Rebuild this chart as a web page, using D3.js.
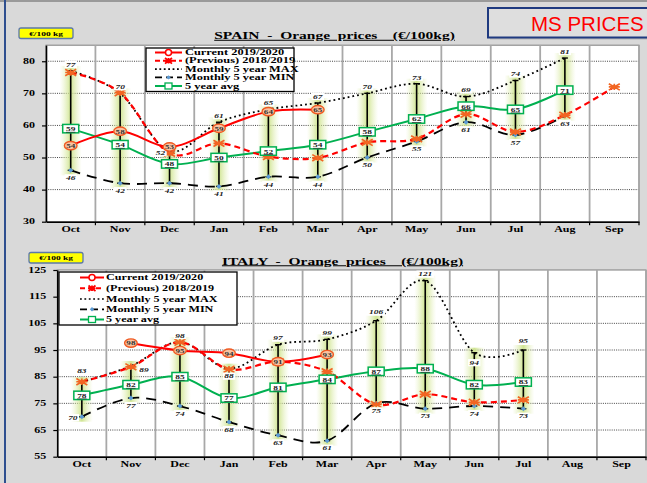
<!DOCTYPE html>
<html><head><meta charset="utf-8">
<script src="https://cdn.jsdelivr.net/npm/d3@7/dist/d3.min.js"></script>
<style>
html,body{margin:0;padding:0;background:#d9d9d9;}
svg{display:block;}
text{font-family:"Liberation Serif","Times New Roman",serif;font-weight:bold;white-space:pre;}
</style></head>
<body>
<svg id="chart" width="647" height="483"></svg>
<script>
// ---------- DATA ----------
const months = ["Oct","Nov","Dec","Jan","Feb","Mar","Apr","May","Jun","Jul","Aug","Sep"];
const legendLabels = ["Current 2019/2020","(Previous) 2018/2019","Monthly 5 year MAX","Monthly 5 year MIN","5 year avg"];

const spainCurrent  = [53.7, 58.2, 53.3, 59.1, 64.3, 64.9, null, null, null, null, null, null];
const spainPrevious = [76.5, 70.2, 51.3, 54.4, 50.3, 49.9, 54.7, 55.8, 63.5, 58.0, 63.2, 72.0];
const spainMax      = [77, 70, 52, 61, 65, 67, 70, 73, 69, 74, 81, null];
const spainMin      = [46, 42, 42, 41, 44, 44, 50, 55, 61, 57, 63, null];
const spainAvg      = [59, 54, 48, 50, 52, 54, 58, 62, 66, 65, 71, null];
const spainTicks    = [30, 40, 50, 60, 70, 80];

const italyCurrent  = [null, 97.6, 94.8, 93.8, 90.6, 93.3, null, null, null, null, null, null];
const italyPrevious = [83.1, 88.7, 97.9, 87.8, 90.6, 86.9, 74.6, 78.4, 75.4, 76.3, null, null];
const italyMax      = [83, 89, 98, 88, 97, 99, 106, 121, 94, 95, null, null];
const italyMin      = [70, 77, 74, 68, 63, 61, 75, 73, 74, 73, null, null];
const italyAvg      = [78, 82, 85, 77, 81, 84, 87, 88, 82, 83, null, null];
const italyTicks    = [55, 65, 75, 85, 95, 105, 115, 125];

// ---------- DRAWING ----------
const svg = d3.select("#chart");
const defs = svg.append("defs");
const gg = defs.append("linearGradient").attr("id","glow").attr("x1","0").attr("x2","1").attr("y1","0").attr("y2","0");
gg.append("stop").attr("offset","0").attr("stop-color","#e4f0b8").attr("stop-opacity",0);
gg.append("stop").attr("offset","0.5").attr("stop-color","#cde38c").attr("stop-opacity",0.95);
gg.append("stop").attr("offset","1").attr("stop-color","#e4f0b8").attr("stop-opacity",0);

// page frame
svg.append("rect").attr("x",0).attr("y",0).attr("width",647).attr("height",483).attr("fill","#d9d9d9");
svg.append("rect").attr("x",0).attr("y",0).attr("width",647).attr("height",2).attr("fill","#9a9a9a");
svg.append("rect").attr("x",4).attr("y",0).attr("width",2).attr("height",483).attr("fill","#2f4f8f");

// MS PRICES box
svg.append("rect").attr("x",490).attr("y",10).attr("width",170).attr("height",29.5).attr("fill","#b8b8b8");
svg.append("rect").attr("x",488).attr("y",8).attr("width",170).attr("height",29.5)
  .attr("fill","#dedede").attr("stroke","#1f3a80").attr("stroke-width",2);
svg.append("text").attr("x",531).attr("y",30.5).text("MS PRICES")
  .style("font-family","'Liberation Sans',Arial,sans-serif").style("font-weight","normal")
  .attr("font-size",20.5).attr("fill","#ff0000");

function stext(g, x, y, str, o) {
  o = o || {};
  const t = g.append("text")
    .attr("transform", `translate(${x},${y}) scale(${o.sx || 1.5},1)`)
    .attr("font-size", o.fs || 8)
    .attr("text-anchor", o.anchor || "middle")
    .attr("fill", o.fill || "#000")
    .text(str);
  if (o.italic) t.style("font-style","italic");
  if (o.underline) t.style("text-decoration","underline");
  return t;
}

function starPath(w, h) {
  return `M${-w},${-h}L${w},${h}M${-w},${h}L${w},${-h}M${-w},0L${w},0M0,${-h}L0,${h}`;
}

function drawPanel(P) {
  const g = svg.append("g");
  const x = d3.scaleBand().domain(months).range([P.left, P.right]).padding(0);
  const cx = m => x(m) + x.bandwidth() / 2;
  const y = d3.scaleLinear().domain(P.domain).range([P.bottom, P.top]);
  const rows = months.map((m, i) => ({m, cur: P.cur[i], prev: P.prev[i], max: P.max[i], min: P.min[i], avg: P.avg[i]}));

  // yellow unit box
  g.append("rect").attr("x",P.unit[0]).attr("y",P.unit[1]).attr("width",P.unit[2]).attr("height",P.unit[3])
    .attr("rx",2).attr("fill","#ffff00").attr("stroke","#5b78a8").attr("stroke-width",1.3);
  stext(g, P.unit[0] + P.unit[2]/2, P.unit[1] + P.unit[3]/2 + 2.3, "€/100 kg", {fs:6.5, sx:1.45});

  // title
  stext(g, P.titleX, P.titleY, P.title, {fs:10, sx:1.55, underline:true});

  // plot background
  g.append("rect").attr("x",P.left).attr("y",P.top).attr("width",P.right-P.left).attr("height",P.bottom-P.top)
    .attr("fill","#fff").attr("stroke","#7f7f7f").attr("stroke-width",1);

  // horizontal grid
  g.selectAll(null).data(P.ticks.filter(t => t > P.domain[0] && t < P.domain[1])).join("line")
    .attr("x1",P.left).attr("x2",P.right).attr("y1",d => y(d)).attr("y2",d => y(d))
    .attr("stroke","#444").attr("stroke-width",1).attr("stroke-dasharray","1,1.2");

  // vertical grid
  g.selectAll(null).data(months.slice(1)).join("line")
    .attr("x1",d => x(d)).attr("x2",d => x(d)).attr("y1",P.top).attr("y2",P.bottom)
    .attr("stroke","#a8a8a8").attr("stroke-width",1.8);
  g.append("line").attr("x1",P.right).attr("x2",P.right).attr("y1",P.top).attr("y2",P.bottom)
    .attr("stroke","#a8a8a8").attr("stroke-width",1.8);

  const bars = rows.filter(d => d.max != null && d.min != null);
  // glow
  g.selectAll(null).data(bars).join("rect")
    .attr("x",d => cx(d.m) - 11).attr("width",22)
    .attr("y",d => y(d.max) - 5).attr("height",d => y(d.min) - y(d.max) + 10)
    .attr("fill","url(#glow)");
  // range bars
  g.selectAll(null).data(bars).join("line")
    .attr("x1",d => cx(d.m)).attr("x2",d => cx(d.m)).attr("y1",d => y(d.max)).attr("y2",d => y(d.min))
    .attr("stroke","#000").attr("stroke-width",1.6);
  ["max","min"].forEach(k => {
    g.selectAll(null).data(bars).join("line")
      .attr("x1",d => cx(d.m) - 3).attr("x2",d => cx(d.m) + 3).attr("y1",d => y(d[k])).attr("y2",d => y(d[k]))
      .attr("stroke","#000").attr("stroke-width",1.4);
  });

  const curve = d3.curveCardinal.tension(0);
  const mkLine = k => d3.line().defined(d => d[k] != null).x(d => cx(d.m)).y(d => y(d[k])).curve(curve);
  const lineRows = k => rows.filter(d => d[k] != null);

  g.append("path").attr("d", mkLine("max")(lineRows("max"))).attr("fill","none")
    .attr("stroke","#000").attr("stroke-width",1.8).attr("stroke-dasharray","1.8,3");
  g.append("path").attr("d", mkLine("min")(lineRows("min"))).attr("fill","none")
    .attr("stroke","#000").attr("stroke-width",1.8).attr("stroke-dasharray","10,7");
  g.append("path").attr("d", mkLine("avg")(lineRows("avg"))).attr("fill","none")
    .attr("stroke","#00b050").attr("stroke-width",2);
  g.append("path").attr("d", mkLine("prev")(lineRows("prev"))).attr("fill","none")
    .attr("stroke","#ff0000").attr("stroke-width",2.2).attr("stroke-dasharray","6,4");
  g.append("path").attr("d", mkLine("cur")(lineRows("cur"))).attr("fill","none")
    .attr("stroke","#ff0000").attr("stroke-width",2);

  // min markers
  g.selectAll(null).data(lineRows("min")).join("path")
    .attr("d","M0,-2.5L2.5,0L0,2.5L-2.5,0Z")
    .attr("transform",d => `translate(${cx(d.m)},${y(d.min)})`).attr("fill","#5b9bd5");
  // previous markers
  g.selectAll(null).data(lineRows("prev")).join("path")
    .attr("d", starPath(5.5, 3.2))
    .attr("transform",d => `translate(${cx(d.m)},${y(d.prev)})`)
    .attr("stroke","#f26522").attr("stroke-width",1.7).attr("fill","none");

  // max / min labels
  const lab = (d, k, def, exc) => {
    const off = (exc && exc[d.m]) || def;
    const px = cx(d.m) + off[0], py = y(d[k]) + off[1];
    const s = String(Math.round(d[k]));
    g.append("rect").attr("x",px - s.length*2.6 - 1).attr("y",py - 3.6).attr("width",s.length*5.2 + 2).attr("height",7.2).attr("fill","#fff");
    stext(g, px, py + 2.3, s, {fs:6.5, sx:1.45, italic:true, fill:"#222"});
  };
  bars.forEach(d => { lab(d, "max", [0,-6.5], P.maxExc); lab(d, "min", [0,7.5], P.minExc); });

  // avg boxes
  lineRows("avg").forEach(d => {
    const px = cx(d.m), py = y(d.avg);
    g.append("rect").attr("x",px - 8).attr("y",py - 4.2).attr("width",16).attr("height",8.4)
      .attr("fill","#fff").attr("stroke","#00b050").attr("stroke-width",1.5);
    stext(g, px, py + 2.4, String(Math.round(d.avg)), {fs:6.5, sx:1.45, underline:true, fill:"#222"});
  });
  // current circles
  lineRows("cur").forEach(d => {
    const px = cx(d.m), py = y(d.cur);
    g.append("ellipse").attr("cx",px).attr("cy",py).attr("rx",6.3).attr("ry",4.2)
      .attr("fill","#f9c3a0").attr("stroke","#f05a22").attr("stroke-width",1.4);
    stext(g, px, py + 2.3, String(Math.round(d.cur)), {fs:6.5, sx:1.4, fill:"#333"});
  });

  // axes
  const ya = g.append("g").attr("transform",`translate(${P.left},0)`)
    .call(d3.axisLeft(y).tickValues(P.ticks).tickSize(4).tickSizeOuter(0).tickFormat(""));
  ya.select(".domain").attr("stroke-width",1.6);
  ya.selectAll(".tick line").attr("stroke-width",1.2);
  P.ticks.forEach(t => stext(g, P.left - P.tickLabelGap, y(t) + 2.6, String(t), {fs:7.5, sx:1.6, anchor:"end"}));

  const xa = g.append("g").attr("transform",`translate(0,${P.bottom})`)
    .call(d3.axisBottom(x).tickSize(0).tickFormat(""));
  xa.select(".domain").attr("stroke-width",1.6);
  g.selectAll(null).data(months.slice(1).map(m => x(m)).concat([P.right])).join("line")
    .attr("x1",d => d).attr("x2",d => d).attr("y1",P.bottom).attr("y2",P.bottom + 3.5)
    .attr("stroke","#000").attr("stroke-width",1.2);
  months.forEach(m => stext(g, cx(m), P.monthY, m, {fs:8, sx:1.5}));

  // legend
  const L = P.legend;
  const lg = g.append("g");
  lg.append("rect").attr("x",L.x0).attr("y",L.y0).attr("width",L.x1-L.x0).attr("height",L.y1-L.y0)
    .attr("fill","#fff").attr("stroke","#000").attr("stroke-width",1.3);
  const styles = [
    {stroke:"#ff0000", dash:null, w:2},
    {stroke:"#ff0000", dash:"5,3", w:2},
    {stroke:"#000", dash:"1.8,2.6", w:1.6},
    {stroke:"#000", dash:"7,4", w:1.8},
    {stroke:"#00b050", dash:null, w:2}
  ];
  legendLabels.forEach((lbl, i) => {
    const ry = L.rowY[i], mx = (L.lineX0 + L.lineX1) / 2;
    const ln = lg.append("line").attr("x1",L.lineX0).attr("x2",L.lineX1).attr("y1",ry).attr("y2",ry)
      .attr("stroke",styles[i].stroke).attr("stroke-width",styles[i].w);
    if (styles[i].dash) ln.attr("stroke-dasharray",styles[i].dash);
    if (i === 0) lg.append("circle").attr("cx",mx).attr("cy",ry).attr("r",3).attr("fill","#fff").attr("stroke","#ff0000").attr("stroke-width",1.5);
    if (i === 1) lg.append("path").attr("d",starPath(3.5,2.8)).attr("transform",`translate(${mx},${ry})`).attr("stroke","#ff0000").attr("stroke-width",1.8);
    if (i === 3) lg.append("path").attr("d","M0,-2.2L2.2,0L0,2.2L-2.2,0Z").attr("transform",`translate(${mx},${ry})`).attr("fill","#5b9bd5");
    if (i === 4) lg.append("rect").attr("x",mx-3.5).attr("y",ry-3).attr("width",7).attr("height",6).attr("fill","#fff").attr("stroke","#00b050").attr("stroke-width",1.3);
    stext(lg, L.textX, ry + L.fs*0.33, lbl, {fs:L.fs, sx:L.sx, anchor:"start"});
  });
}

drawPanel({
  cur: spainCurrent, prev: spainPrevious, max: spainMax, min: spainMin, avg: spainAvg,
  ticks: spainTicks, domain: [30, 85],
  left: 46, right: 639, top: 45.2, bottom: 221.7,
  tickLabelGap: 11, monthY: 232,
  title: "SPAIN  -  Orange  prices    (€/100kg)", titleX: 334.5, titleY: 39,
  unit: [19, 28, 54, 10.5],
  maxExc: {Dec: [-9, 1.5]}, minExc: {},
  legend: {x0:146, y0:48, x1:294, y1:91.5, rowY:[52.5,60.8,69.1,77.4,86], lineX0:155, lineX1:182, textX:185, fs:8, sx:1.55}
});

drawPanel({
  cur: italyCurrent, prev: italyPrevious, max: italyMax, min: italyMin, avg: italyAvg,
  ticks: italyTicks, domain: [55, 125],
  left: 57.3, right: 646, top: 270, bottom: 456.7,
  tickLabelGap: 11, monthY: 467,
  title: "ITALY  -  Orange  prices    (€/100kg)", titleX: 342.5, titleY: 264.5,
  unit: [29, 252.5, 54, 10.5],
  maxExc: {Oct: [0, -11], Nov: [13, 4], Jan: [0, 7.5], Apr: [0, -9], Jun: [0, 10], Jul: [0, -9]},
  minExc: {Oct: [-9, 1]},
  legend: {x0:59, y0:272, x1:237, y1:325, rowY:[277.5,288.3,299,309.3,319.5], lineX0:80, lineX1:104, textX:106, fs:9, sx:1.35}
});
</script>
</body></html>
